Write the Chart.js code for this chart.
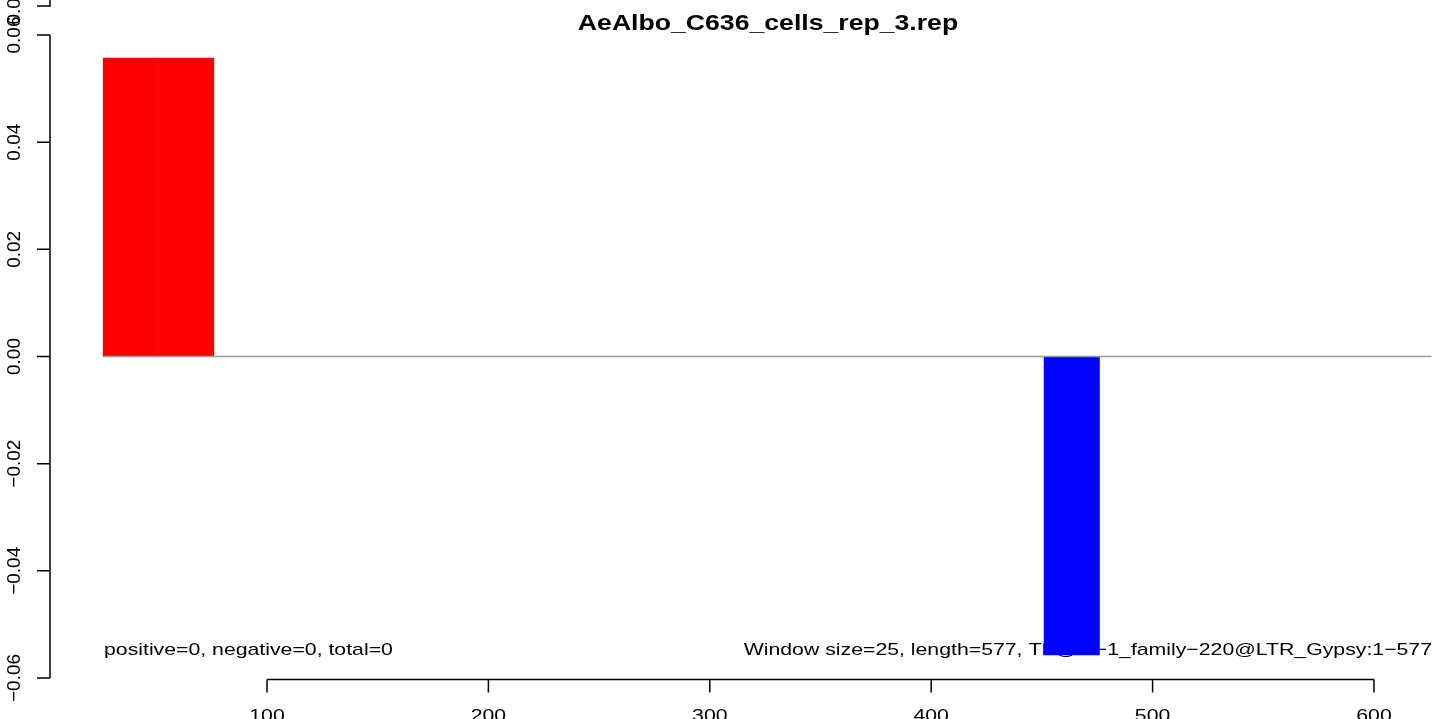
<!DOCTYPE html>
<html>
<head>
<meta charset="utf-8">
<script src="https://cdn.jsdelivr.net/npm/chart.js@4"></script>
<style>
  body { margin: 0; background: #fff; }
  canvas { display: block; }
</style>
</head>
<body>
<canvas id="myChart" width="1444" height="719"></canvas>
<script>
'use strict';

// window starts (window size 25, positions 1..577) and their values
const windowSize = 25;
const windowStart = [1, 26, 51, 76, 101, 126, 151, 176, 201, 226, 251, 276,
  301, 326, 351, 376, 401, 426, 451, 476, 501, 526, 551, 576];
const windowValue = [0, 0.0557, 0.0557, 0, 0, 0, 0, 0, 0, 0, 0, 0,
  0, 0, 0, 0, 0, 0, -0.0557, 0, 0, 0, 0, 0];

const baselineX = [26, 626];
const xTicks = [100, 200, 300, 400, 500, 600];
const yTicks = [-0.06, -0.04, -0.02, 0, 0.02, 0.04, 0.06];
const yExtraTick = 0.0654;

const titleText = 'AeAlbo_C636_cells_rep_3.rep';
const leftNote = 'positive=0, negative=0, total=0';
const rightNote = 'Window size=25, length=577, TE@ltr\u22121_family\u2212220@LTR_Gypsy:1\u2212577';

const FONT = '"Liberation Sans", Arial, sans-serif';

function stretchedText(c, text, x, y, font, align, baseline, sx) {
  c.save();
  c.font = font;
  c.textAlign = align;
  c.textBaseline = baseline || 'alphabetic';
  c.fillStyle = '#000';
  c.translate(x, y);
  c.scale(sx || 1.25, 1);
  c.fillText(text, 0, 0);
  c.restore();
}

function fmt(v) {
  return v.toFixed(2).replace('-', '\u2212');
}

// notes sit under the bars
const notesPlugin = {
  id: 'notes',
  beforeDatasetsDraw(chart) {
    const c = chart.ctx;
    stretchedText(c, leftNote, 104, 655, '17px ' + FONT, 'left');
    stretchedText(c, rightNote, 1432, 655, '17px ' + FONT, 'right');
  }
};

// R style axes and title
const rAxesPlugin = {
  id: 'rAxes',
  afterDraw(chart) {
    const c = chart.ctx;
    const x = chart.scales.x;
    const y = chart.scales.y;
    const axisX = 50;
    const axisY = 679.5;

    c.save();
    c.strokeStyle = '#000';
    c.lineWidth = 1.5;

    // y axis
    c.beginPath();
    c.moveTo(axisX, y.getPixelForValue(yTicks[0]));
    c.lineTo(axisX, y.getPixelForValue(yTicks[yTicks.length - 1]));
    yTicks.forEach(v => {
      const py = y.getPixelForValue(v);
      c.moveTo(axisX, py);
      c.lineTo(axisX - 13, py);
    });
    const pe = y.getPixelForValue(yExtraTick);
    c.moveTo(axisX, 0);
    c.lineTo(axisX, pe);
    c.lineTo(axisX - 13, pe);
    c.stroke();

    // x axis
    c.beginPath();
    c.moveTo(x.getPixelForValue(xTicks[0]), axisY);
    c.lineTo(x.getPixelForValue(xTicks[xTicks.length - 1]), axisY);
    xTicks.forEach(v => {
      const px = x.getPixelForValue(v);
      c.moveTo(px, axisY);
      c.lineTo(px, axisY + 13);
    });
    c.stroke();
    c.restore();

    // y labels, rotated
    c.save();
    c.font = '19px ' + FONT;
    c.fillStyle = '#000';
    c.textAlign = 'center';
    c.textBaseline = 'alphabetic';
    yTicks.concat([yExtraTick]).forEach(v => {
      const py = y.getPixelForValue(v);
      c.save();
      c.translate(20, py);
      c.rotate(-Math.PI / 2);
      c.fillText(fmt(v === yExtraTick ? 0.06 : v), 0, 0);
      c.restore();
    });
    c.restore();

    // x labels
    xTicks.forEach(v => {
      stretchedText(c, String(v), x.getPixelForValue(v), 708, '17px ' + FONT, 'center', 'top');
    });

    // title
    stretchedText(c, titleText, 768, 30, 'bold 22px ' + FONT, 'center', 'alphabetic', 1.21);
  }
};

const ctx = document.getElementById('myChart');

let mainChart = new Chart(ctx, {
  type: 'bar',
  data: {
    datasets: [{
      type: 'line',
      data: baselineX.map(v => ({ x: v, y: 0 })),
      borderColor: '#999999',
      borderWidth: 1.5,
      pointRadius: 0
    },
    {
      data: windowStart.map((s, i) => ({ x: s + windowSize / 2, y: windowValue[i] })),
      backgroundColor: windowValue.map(v => v > 0 ? '#ff0000' : (v < 0 ? '#0000ff' : 'rgba(0,0,0,0)')),
      borderWidth: 0,
      barPercentage: 1,
      categoryPercentage: 1
    }]
  },
  options: {
    responsive: false,
    animation: false,
    devicePixelRatio: 1,
    layout: {
      padding: { left: 45.6, right: 3.6, top: 2.9, bottom: 8.9 }
    },
    plugins: {
      legend: { display: false },
      tooltip: { enabled: false },
      title: { display: false }
    },
    scales: {
      x: { type: 'linear', min: 0, max: 630, offset: false, display: false },
      y: { min: -0.066, max: 0.066, display: false }
    }
  },
  plugins: [notesPlugin, rAxesPlugin]
});
</script>
</body>
</html>
